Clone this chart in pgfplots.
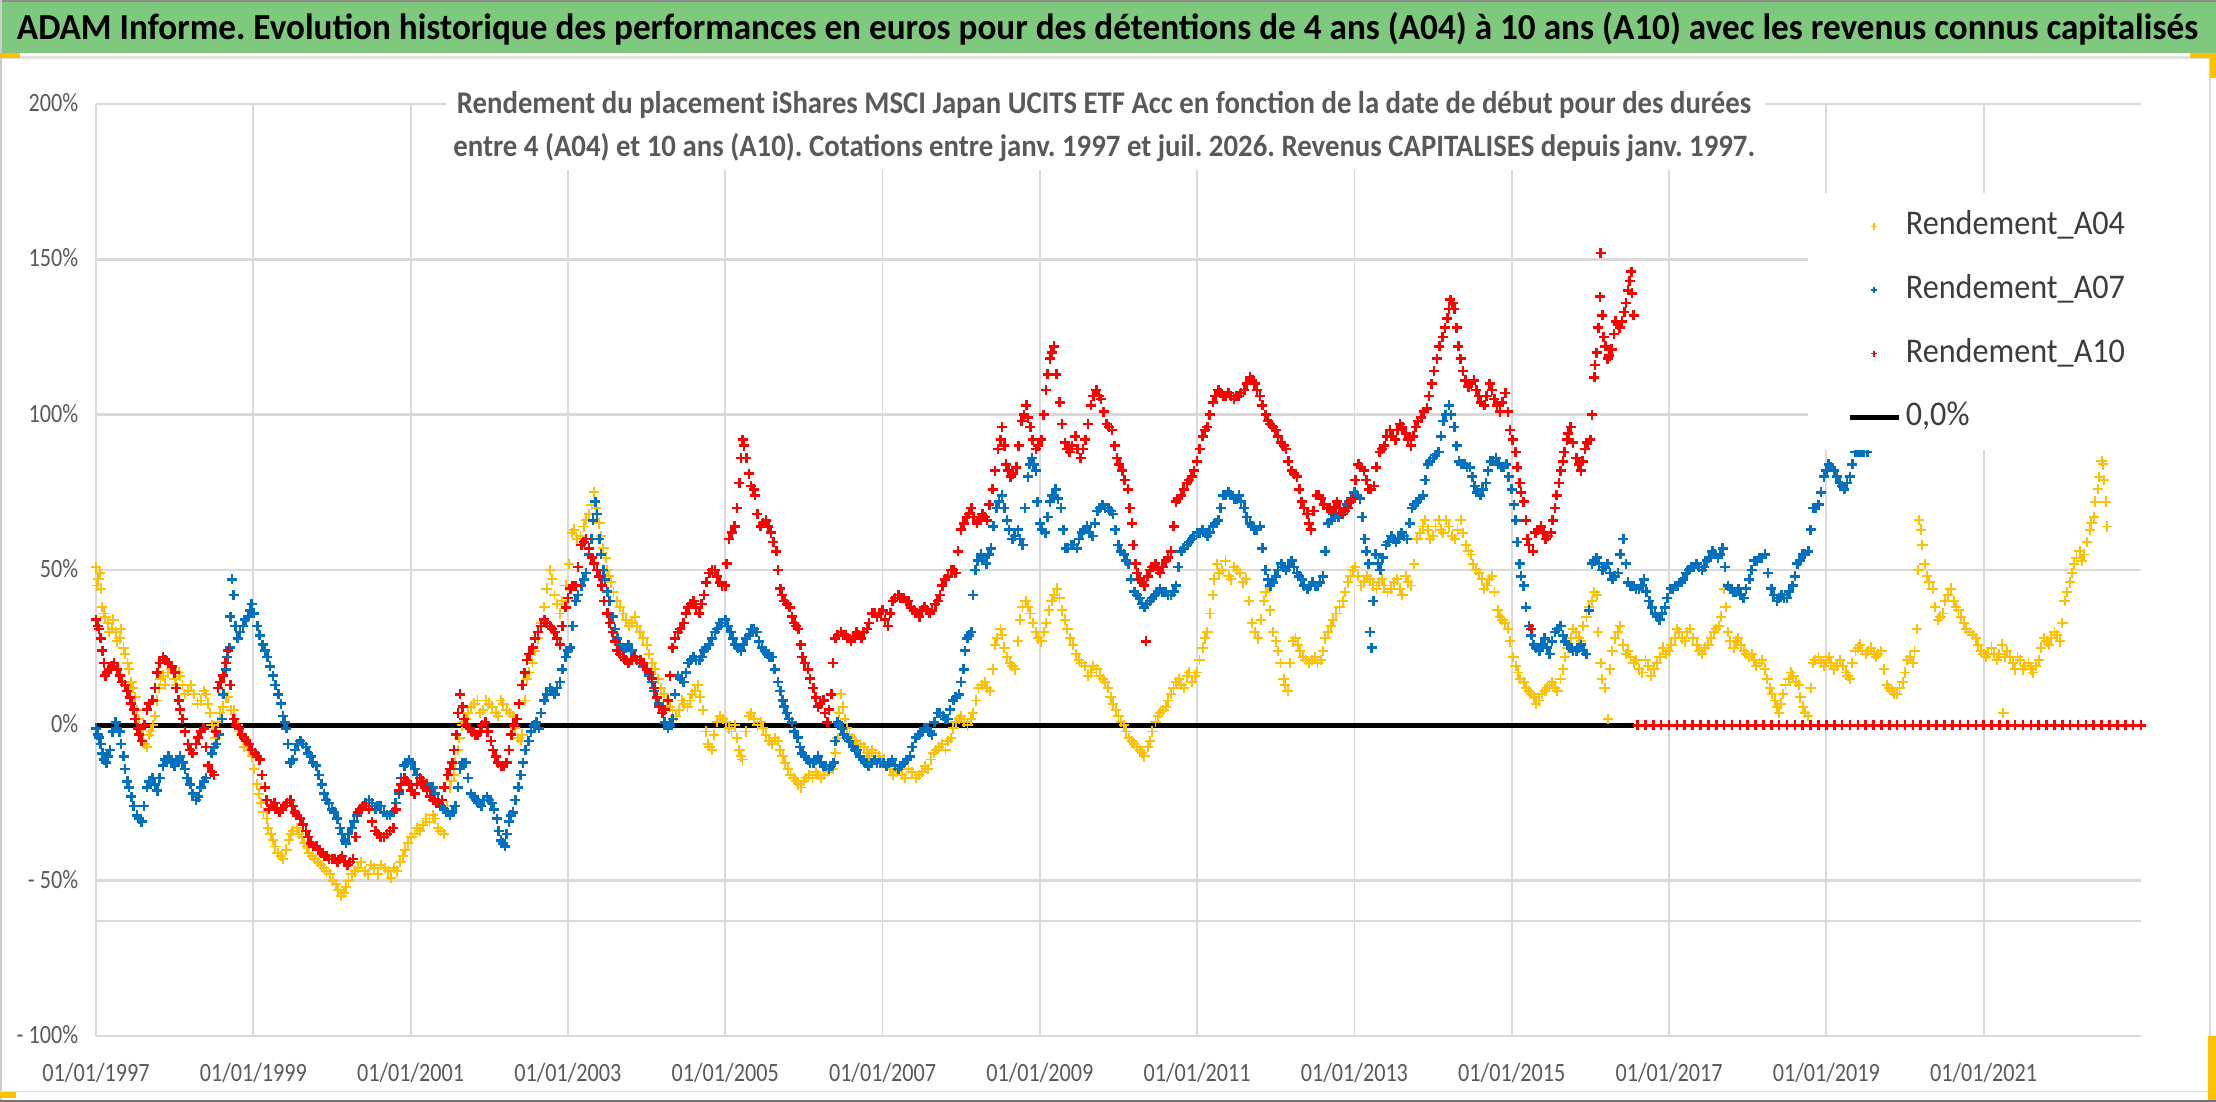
\documentclass[border=0pt]{standalone}
\usepackage{pgfplots}
\pgfplotsset{compat=1.18}
\usepackage{fontspec}
\setmainfont{Carlito}
\newfontfamily\condfont{Carlito}[FakeStretch=0.84]
\newfontfamily\legfam{Carlito}[FakeStretch=0.93]
\newcommand{\tickfont}{\condfont\fontsize{13.2}{14}\selectfont}
\newcommand{\legfont}{\legfam\fontsize{17.3}{18}\selectfont}
\definecolor{titlegreen}{RGB}{126,201,126}
\definecolor{yel}{RGB}{255,192,0}
\definecolor{blu}{RGB}{0,112,192}
\definecolor{rd}{RGB}{255,0,0}
\definecolor{labelgray}{RGB}{89,89,89}
\definecolor{leggray}{RGB}{60,60,60}
\definecolor{gridc}{RGB}{217,217,217}
\definecolor{handle}{RGB}{255,192,0}
\pgfplotsset{
  scatterleg/.style={legend image code/.code={\path[draw=none,fill=none] (0pt,0pt) -- (24.5pt,0pt);
      \draw[mark repeat=2,mark phase=2,##1,mark size=1.6pt,line width=0.7pt] plot coordinates {(0pt,0pt) (12.25pt,0pt) (24.5pt,0pt)};}},
  lineleg/.style={legend image code/.code={\draw[##1] (0pt,0pt) -- (24.5pt,0pt);}},
  pts/.style={only marks, mark=+, mark size=2.5pt, line width=1.3pt, scatterleg},
  ptsy/.style={only marks, mark=+, mark size=2.6pt, line width=0.95pt, scatterleg},
}
\begin{document}
\frenchspacing
\begin{tikzpicture}
\useasboundingbox (0pt,0pt) rectangle (1108pt,551pt);
\fill[white] (0pt,0pt) rectangle (1108pt,551pt);
\fill[titlegreen] (0pt,524.5pt) rectangle (1108pt,551pt);
\draw[black!45, line width=1pt] (0pt,550.5pt) -- (1108pt,550.5pt);
\draw[black!12, line width=1.2pt] (0pt,522.3pt) -- (1108pt,522.3pt);
\draw[black!20, line width=0.8pt] (0.4pt,0pt) -- (0.4pt,551pt);
\draw[black!15, line width=0.8pt] (1105pt,1pt) -- (1105pt,522pt);
\draw[black!12, line width=0.8pt] (0pt,5.2pt) -- (1108pt,5.2pt);
\draw[black!55, line width=1pt] (0pt,0.6pt) -- (1108pt,0.6pt);
\fill[handle] (0pt,522pt) rectangle (10pt,524.5pt);
\fill[handle] (1095pt,522pt) rectangle (1108pt,524.5pt);
\fill[handle] (1105pt,512pt) rectangle (1108pt,524pt);
\fill[handle] (1104pt,1pt) rectangle (1108pt,33pt);
\fill[handle] (0pt,2pt) rectangle (8pt,5pt);
\node[anchor=base, inner sep=0pt] at (553.75pt,531pt) {\resizebox{1090.5pt}{13.6pt}{\bfseries ADAM Informe. Evolution historique des performances en euros pour des détentions de 4 ans (A04) à 10 ans (A10) avec les revenus connus capitalisés}};
\begin{axis}[
  at={(48pt,33pt)}, anchor=south west,
  width=1022.5pt, height=466pt, scale only axis,
  xmin=1997, xmax=2023, ymin=-100, ymax=200,
  xtick={1997,1999,2001,2003,2005,2007,2009,2011,2013,2015,2017,2019,2021},
  xticklabels={01/01/1997,01/01/1999,01/01/2001,01/01/2003,01/01/2005,01/01/2007,01/01/2009,01/01/2011,01/01/2013,01/01/2015,01/01/2017,01/01/2019,01/01/2021},
  ytick={-100,-50,0,50,100,150,200},
  yticklabels={- 100\%,- 50\%,0\%,50\%,100\%,150\%,200\%},
  extra y ticks={-100,-63}, extra y tick labels={},
  extra y tick style={grid style={draw=black!22, line width=2pt}},
  grid=major,
  x grid style={draw=gridc, line width=0.9pt},
  y grid style={draw=gridc, line width=1.3pt},
  axis line style={draw=none},
  major tick length=0pt,
  tick label style={font=\tickfont, text=labelgray},
  xticklabel style={anchor=base, yshift=-22.85pt, inner sep=0pt},
  yticklabel style={anchor=base east, xshift=-8.75pt, yshift=-3.7pt, inner sep=0pt},
  legend cell align=left,
  legend style={at={(0.8372,0.9045)}, anchor=north west, fill=white, draw=none,
    inner xsep=19.25pt, inner ysep=8.7pt,
    font=\legfont, row sep=16.35pt,
    nodes={inner sep=0pt, text height=12pt, text depth=3.5pt, text=leggray},
    /tikz/every odd column/.append style={column sep=2.25pt}},
]
% ---------------- Rendement_A04 ----------------
\addplot[ptsy, color=yel] table {
x y
1997.00 51
1997.03 47
1997.06 44
1997.10 36
1997.15 33
1997.20 31
1997.25 30
1997.30 28
1997.35 25
1997.40 20
1997.45 14
1997.50 9
1997.55 2
1997.60 -3
1997.65 -7
1997.70 -2
1997.75 3
1997.80 12
1997.85 16
1997.92 17
1998.00 15
1998.05 17
1998.10 13
1998.17 11
1998.25 10
1998.33 8
1998.40 10
1998.45 4
1998.50 -2
1998.55 1
1998.62 6
1998.68 9
1998.75 5
1998.80 0
1998.85 -3
1998.92 -6
1998.98 -10
1999.05 -19
1999.10 -25
1999.17 -30
1999.22 -35
1999.28 -39
1999.35 -42
1999.42 -40
1999.48 -35
1999.55 -33
1999.62 -36
1999.68 -39
1999.75 -42
1999.82 -44
1999.90 -46
1999.97 -48
2000.05 -51
2000.12 -55
2000.18 -52
2000.25 -48
2000.33 -46
2000.42 -47
2000.50 -45
2000.58 -48
2000.67 -46
2000.75 -49
2000.83 -47
2000.90 -42
2000.97 -38
2001.05 -35
2001.12 -34
2001.20 -30
2001.28 -29
2001.35 -33
2001.42 -35
2001.50 -20
2001.55 -16
2001.60 -8
2001.65 0
2001.70 2
2001.77 6
2001.85 8
2001.92 5
2002.00 7
2002.08 4
2002.15 8
2002.22 5
2002.30 3
2002.37 -4
2002.42 -3
2002.48 15
2002.55 20
2002.62 28
2002.70 38
2002.77 50
2002.83 42
2002.90 36
2002.97 45
2003.05 62
2003.12 60
2003.20 64
2003.27 68
2003.33 75
2003.40 65
2003.45 57
2003.50 50
2003.55 46
2003.62 40
2003.70 36
2003.78 32
2003.85 35
2003.92 30
2004.00 26
2004.07 20
2004.15 15
2004.22 10
2004.30 6
2004.37 3
2004.45 8
2004.52 6
2004.58 10
2004.65 13
2004.72 5
2004.78 -6
2004.83 -8
2004.90 1
2004.97 2
2005.05 -1
2005.12 0
2005.18 -8
2005.22 -11
2005.30 3
2005.37 2
2005.45 1
2005.52 -3
2005.60 -6
2005.67 -5
2005.73 -10
2005.80 -14
2005.87 -17
2005.93 -19
2006.00 -18
2006.07 -16
2006.15 -15
2006.22 -17
2006.30 -15
2006.37 -14
2006.43 -4
2006.47 10
2006.52 2
2006.58 -3
2006.65 -5
2006.72 -6
2006.80 -9
2006.87 -8
2006.95 -10
2007.02 -11
2007.10 -14
2007.17 -15
2007.25 -16
2007.33 -14
2007.42 -17
2007.50 -15
2007.58 -14
2007.65 -9
2007.72 -7
2007.80 -8
2007.87 -4
2007.93 1
2008.00 3
2008.08 0
2008.15 4
2008.22 12
2008.30 14
2008.37 11
2008.43 26
2008.50 31
2008.55 25
2008.62 20
2008.68 18
2008.75 34
2008.82 40
2008.88 36
2008.95 30
2009.02 27
2009.08 33
2009.15 40
2009.22 44
2009.28 37
2009.35 31
2009.42 26
2009.50 21
2009.57 19
2009.65 17
2009.72 18
2009.80 15
2009.87 12
2009.93 7
2010.00 3
2010.07 0
2010.13 -4
2010.20 -6
2010.27 -8
2010.33 -10
2010.40 -5
2010.47 1
2010.53 4
2010.60 6
2010.67 10
2010.73 14
2010.80 13
2010.87 16
2010.93 14
2011.00 17
2011.07 25
2011.13 30
2011.20 42
2011.25 52
2011.32 50
2011.40 48
2011.47 51
2011.55 49
2011.62 47
2011.70 33
2011.77 28
2011.85 40
2011.90 45
2011.97 30
2012.03 24
2012.10 15
2012.15 11
2012.22 27
2012.28 26
2012.35 22
2012.42 20
2012.50 22
2012.57 21
2012.63 28
2012.70 32
2012.77 36
2012.85 40
2012.92 46
2012.98 50
2013.05 48
2013.12 46
2013.20 47
2013.28 44
2013.35 47
2013.42 43
2013.50 46
2013.58 44
2013.65 48
2013.72 45
2013.80 60
2013.87 64
2013.93 63
2014.00 61
2014.07 66
2014.13 62
2014.20 64
2014.28 60
2014.35 66
2014.42 58
2014.48 55
2014.55 50
2014.62 47
2014.68 45
2014.75 48
2014.82 37
2014.88 34
2014.95 31
2015.02 22
2015.08 17
2015.15 14
2015.22 11
2015.28 9
2015.35 8
2015.42 11
2015.48 13
2015.55 12
2015.62 15
2015.68 22
2015.75 28
2015.82 30
2015.88 27
2015.95 35
2016.02 40
2016.08 42
2016.13 20
2016.18 12
2016.22 2
2016.28 24
2016.35 30
2016.42 26
2016.48 24
2016.55 20
2016.62 18
2016.70 21
2016.77 16
2016.85 20
2016.92 25
2017.00 24
2017.07 28
2017.13 30
2017.20 27
2017.27 31
2017.35 26
2017.42 23
2017.50 26
2017.57 30
2017.63 32
2017.70 44
2017.75 30
2017.82 25
2017.88 28
2017.95 24
2018.02 22
2018.08 21
2018.15 20
2018.22 18
2018.28 12
2018.35 8
2018.40 4
2018.45 10
2018.52 15
2018.58 16
2018.65 13
2018.70 6
2018.77 3
2018.83 20
2018.90 22
2018.97 19
2019.03 22
2019.10 18
2019.17 21
2019.25 17
2019.30 15
2019.37 24
2019.43 26
2019.50 23
2019.57 25
2019.63 22
2019.70 24
2019.77 13
2019.83 11
2019.90 10
2019.97 14
2020.03 21
2020.10 20
2020.15 31
2020.18 66
2020.22 58
2020.28 48
2020.35 44
2020.42 34
2020.48 36
2020.55 42
2020.62 40
2020.68 37
2020.75 33
2020.82 30
2020.90 28
2020.97 24
2021.03 22
2021.10 25
2021.17 21
2021.23 26
2021.25 4
2021.30 24
2021.37 20
2021.43 22
2021.50 18
2021.57 20
2021.63 17
2021.70 21
2021.77 28
2021.83 26
2021.90 30
2021.97 27
2022.03 40
2022.10 46
2022.15 52
2022.22 56
2022.28 55
2022.35 63
2022.40 67
2022.45 76
2022.50 85
2022.53 79
2022.57 64
};
\addlegendentry{Rendement\_A04}
\addplot[ptsy, color=yel, forget plot] table {
x y
1997.01 45
1997.05 49
1997.08 38
1997.12 35
1997.17 30
1997.22 34
1997.27 27
1997.32 31
1997.37 23
1997.42 18
1997.47 12
1997.52 5
1997.57 -1
1997.62 -6
1997.67 -3
1997.72 0
1997.77 8
1997.82 15
1997.88 13
1997.96 18
1998.02 13
1998.07 16
1998.13 10
1998.21 13
1998.29 7
1998.37 11
1998.42 7
1998.47 0
1998.52 -4
1998.58 4
1998.65 9
1998.72 5
1998.77 2
1998.82 -2
1998.88 -7
1998.95 -8
1999.01 -14
1999.07 -22
1999.13 -28
1999.19 -33
1999.25 -37
1999.31 -41
1999.38 -43
1999.45 -37
1999.51 -34
1999.58 -35
1999.65 -38
1999.71 -41
1999.78 -43
1999.86 -45
1999.93 -47
2000.01 -50
2000.08 -53
2000.15 -54
2000.21 -50
2000.29 -47
2000.37 -44
2000.46 -48
2000.54 -46
2000.62 -45
2000.71 -47
2000.79 -46
2000.87 -44
2000.93 -40
2001.01 -36
2001.08 -33
2001.16 -32
2001.24 -31
2001.31 -30
2001.38 -34
2001.46 -26
2001.52 -18
2001.57 -12
2001.62 -4
2001.67 1
2001.73 4
2001.81 7
2001.88 4
2001.96 8
2002.04 6
2002.11 3
2002.18 7
2002.26 4
2002.33 -1
2002.40 -5
2002.45 8
2002.51 17
2002.58 24
2002.66 33
2002.73 44
2002.80 47
2002.86 39
2002.93 40
2003.01 52
2003.08 63
2003.16 61
2003.23 66
2003.30 71
2003.36 70
2003.42 61
2003.48 54
2003.52 48
2003.58 43
2003.66 38
2003.74 34
2003.81 33
2003.88 32
2003.96 28
2004.03 23
2004.11 18
2004.18 12
2004.26 8
2004.33 5
2004.41 5
2004.48 7
2004.55 8
2004.62 11
2004.68 9
2004.75 -2
2004.80 -7
2004.86 -3
2004.93 3
2005.01 1
2005.08 -2
2005.15 -4
2005.20 -10
2005.26 -2
2005.33 4
2005.41 0
2005.48 -1
2005.56 -5
2005.63 -4
2005.70 -8
2005.76 -12
2005.83 -16
2005.90 -18
2005.96 -20
2006.03 -17
2006.11 -17
2006.18 -16
2006.26 -16
2006.33 -13
2006.40 -9
2006.45 4
2006.50 6
2006.55 -1
2006.61 -4
2006.68 -6
2006.76 -7
2006.83 -10
2006.91 -9
2006.98 -12
2007.06 -13
2007.13 -16
2007.21 -14
2007.29 -17
2007.37 -15
2007.46 -16
2007.54 -13
2007.62 -11
2007.68 -8
2007.76 -6
2007.83 -5
2007.90 -1
2007.97 2
2008.04 1
2008.12 2
2008.19 8
2008.26 13
2008.33 12
2008.40 18
2008.46 28
2008.52 29
2008.58 22
2008.65 19
2008.72 27
2008.78 38
2008.85 38
2008.91 33
2008.98 28
2009.05 30
2009.12 37
2009.18 42
2009.25 41
2009.32 34
2009.38 28
2009.46 23
2009.53 20
2009.61 16
2009.68 19
2009.76 16
2009.83 14
2009.90 9
2009.97 5
2010.03 1
2010.10 -2
2010.17 -5
2010.23 -7
2010.30 -9
2010.37 -7
2010.43 -2
2010.50 3
2010.57 5
2010.63 8
2010.70 12
2010.77 15
2010.83 12
2010.90 17
2010.97 16
2011.03 21
2011.10 28
2011.16 36
2011.22 47
2011.28 49
2011.36 53
2011.43 47
2011.51 50
2011.58 46
2011.66 40
2011.73 30
2011.81 34
2011.87 43
2011.93 37
2012.00 27
2012.06 20
2012.12 13
2012.18 20
2012.25 28
2012.31 24
2012.38 21
2012.46 21
2012.53 20
2012.60 24
2012.66 30
2012.73 34
2012.81 38
2012.88 43
2012.95 48
2013.01 51
2013.08 45
2013.16 48
2013.24 45
2013.31 46
2013.38 45
2013.46 44
2013.54 47
2013.61 42
2013.68 46
2013.76 52
2013.83 62
2013.90 66
2013.96 60
2014.03 64
2014.10 63
2014.16 66
2014.24 61
2014.31 63
2014.38 62
2014.45 56
2014.51 52
2014.58 49
2014.65 44
2014.71 47
2014.78 43
2014.85 35
2014.91 33
2014.98 27
2015.05 19
2015.11 15
2015.18 12
2015.25 10
2015.31 7
2015.38 10
2015.45 12
2015.51 14
2015.58 11
2015.65 18
2015.71 25
2015.78 31
2015.85 28
2015.91 32
2015.98 38
2016.05 43
2016.10 30
2016.15 15
2016.25 18
2016.31 28
2016.38 32
2016.45 23
2016.51 22
2016.58 21
2016.66 17
2016.73 19
2016.81 18
2016.88 22
2016.96 23
2017.03 26
2017.10 31
2017.16 28
2017.23 30
2017.31 28
2017.38 24
2017.46 25
2017.53 28
2017.60 31
2017.66 35
2017.72 38
2017.78 27
2017.85 27
2017.91 26
2017.98 23
2018.05 23
2018.11 19
2018.18 21
2018.25 15
2018.31 10
2018.37 6
2018.42 7
2018.48 13
2018.55 17
2018.61 14
2018.67 9
2018.73 4
2018.80 12
2018.86 21
2018.93 20
2019.00 21
2019.06 20
2019.13 19
2019.21 19
2019.27 16
2019.33 20
2019.40 25
2019.46 24
2019.53 24
2019.60 23
2019.66 23
2019.73 18
2019.80 12
2019.86 10
2019.93 12
2020.00 17
2020.06 22
2020.12 24
2020.17 50
2020.20 63
2020.25 52
2020.31 46
2020.38 38
2020.45 35
2020.51 40
2020.58 44
2020.65 38
2020.71 35
2020.78 31
2020.86 29
2020.93 26
2021.00 23
2021.06 23
2021.13 23
2021.20 23
2021.27 22
2021.33 22
2021.40 18
2021.46 21
2021.53 19
2021.60 18
2021.66 19
2021.73 25
2021.80 27
2021.86 28
2021.93 29
2022.00 33
2022.06 43
2022.12 49
2022.18 54
2022.25 53
2022.31 59
2022.37 65
2022.42 72
2022.47 80
2022.52 84
2022.55 72
};
% ---------------- Rendement_A07 ----------------
\addplot[pts, color=blu] table {
x y
1997.00 -1
1997.04 -4
1997.08 -9
1997.13 -12
1997.18 -8
1997.25 1
1997.30 -2
1997.35 -10
1997.40 -18
1997.45 -23
1997.52 -29
1997.58 -31
1997.65 -20
1997.72 -17
1997.78 -21
1997.85 -13
1997.92 -10
1998.00 -13
1998.07 -10
1998.13 -14
1998.20 -19
1998.27 -24
1998.33 -20
1998.40 -17
1998.47 -9
1998.53 -6
1998.60 2
1998.65 18
1998.70 25
1998.73 47
1998.75 42
1998.80 28
1998.87 32
1998.93 35
1998.98 39
1999.05 32
1999.12 26
1999.18 22
1999.25 16
1999.32 10
1999.38 3
1999.42 -1
1999.47 -12
1999.53 -8
1999.60 -5
1999.67 -7
1999.73 -10
1999.80 -13
1999.87 -19
1999.93 -24
2000.00 -27
2000.07 -30
2000.13 -35
2000.18 -38
2000.25 -33
2000.32 -29
2000.40 -26
2000.47 -24
2000.55 -27
2000.62 -26
2000.70 -29
2000.78 -28
2000.85 -22
2000.92 -13
2000.98 -11
2001.05 -14
2001.12 -17
2001.20 -19
2001.28 -20
2001.35 -24
2001.42 -27
2001.50 -29
2001.57 -26
2001.63 -14
2001.70 -12
2001.77 -22
2001.83 -24
2001.90 -26
2001.97 -23
2002.03 -25
2002.10 -30
2002.15 -37
2002.20 -39
2002.25 -31
2002.30 -28
2002.37 -20
2002.43 -12
2002.50 -5
2002.57 0
2002.63 -1
2002.70 8
2002.77 12
2002.83 10
2002.90 14
2002.97 22
2003.03 25
2003.10 40
2003.17 45
2003.23 49
2003.30 60
2003.35 72
2003.40 60
2003.45 50
2003.50 43
2003.57 35
2003.63 28
2003.70 24
2003.77 26
2003.85 22
2003.92 20
2004.00 18
2004.07 14
2004.13 9
2004.20 4
2004.27 -1
2004.33 2
2004.40 16
2004.47 14
2004.53 20
2004.60 22
2004.67 21
2004.73 24
2004.80 26
2004.87 30
2004.93 33
2005.00 34
2005.07 30
2005.13 26
2005.20 24
2005.27 28
2005.33 31
2005.40 30
2005.47 25
2005.53 23
2005.60 22
2005.67 14
2005.73 8
2005.78 4
2005.85 1
2005.92 -4
2005.98 -9
2006.05 -11
2006.12 -12
2006.18 -10
2006.25 -13
2006.32 -14
2006.38 -12
2006.43 1
2006.48 -1
2006.55 -4
2006.62 -7
2006.68 -8
2006.75 -11
2006.82 -13
2006.90 -11
2006.97 -12
2007.05 -13
2007.12 -11
2007.20 -14
2007.27 -12
2007.35 -10
2007.42 -4
2007.50 -2
2007.57 -1
2007.63 -3
2007.70 4
2007.77 3
2007.83 2
2007.90 8
2007.97 10
2008.03 18
2008.08 28
2008.13 30
2008.18 50
2008.25 55
2008.32 52
2008.38 57
2008.45 70
2008.52 74
2008.58 66
2008.65 60
2008.72 63
2008.78 58
2008.85 80
2008.90 86
2008.95 82
2009.00 65
2009.07 62
2009.13 72
2009.20 76
2009.27 70
2009.33 57
2009.40 58
2009.47 57
2009.53 62
2009.60 64
2009.67 61
2009.73 69
2009.80 71
2009.87 70
2009.93 68
2010.00 58
2010.07 55
2010.13 52
2010.20 43
2010.27 41
2010.33 38
2010.40 40
2010.47 42
2010.53 44
2010.60 43
2010.67 42
2010.73 45
2010.80 56
2010.87 58
2010.93 60
2011.00 62
2011.07 63
2011.13 61
2011.20 64
2011.27 66
2011.33 74
2011.40 75
2011.47 73
2011.53 74
2011.60 70
2011.67 65
2011.73 63
2011.80 64
2011.87 50
2011.93 45
2012.00 48
2012.07 52
2012.13 50
2012.20 53
2012.27 49
2012.33 47
2012.40 44
2012.47 46
2012.53 45
2012.60 48
2012.67 65
2012.73 68
2012.80 67
2012.87 70
2012.93 72
2013.00 75
2013.07 73
2013.13 60
2013.18 52
2013.20 30
2013.22 25
2013.27 55
2013.33 50
2013.40 58
2013.47 61
2013.53 59
2013.60 62
2013.67 60
2013.73 70
2013.80 72
2013.87 74
2013.93 84
2014.00 86
2014.07 88
2014.13 98
2014.20 103
2014.27 96
2014.33 85
2014.40 84
2014.47 83
2014.53 77
2014.60 74
2014.67 78
2014.73 85
2014.80 86
2014.87 83
2014.93 84
2015.00 76
2015.05 66
2015.10 52
2015.15 45
2015.22 32
2015.28 26
2015.35 24
2015.42 28
2015.48 23
2015.55 30
2015.62 32
2015.68 27
2015.75 25
2015.82 24
2015.88 26
2015.95 23
2016.02 52
2016.08 54
2016.15 50
2016.22 52
2016.28 47
2016.35 49
2016.42 60
2016.48 46
2016.55 45
2016.62 44
2016.68 47
2016.75 40
2016.82 36
2016.88 34
2016.95 38
2017.02 44
2017.08 45
2017.15 46
2017.22 49
2017.28 51
2017.35 52
2017.42 50
2017.48 53
2017.55 56
2017.62 54
2017.68 57
2017.75 45
2017.82 43
2017.88 44
2017.95 41
2018.02 47
2018.08 53
2018.15 54
2018.22 55
2018.30 44
2018.37 40
2018.43 42
2018.50 41
2018.57 45
2018.63 52
2018.70 55
2018.77 56
2018.83 70
2018.90 71
2018.97 80
2019.03 84
2019.10 82
2019.17 78
2019.23 76
2019.30 80
2019.37 88
2019.45 88
2019.52 88
};
\addlegendentry{Rendement\_A07}
\addplot[pts, color=blu, forget plot] table {
x y
1997.02 -3
1997.06 -6
1997.10 -11
1997.15 -10
1997.21 -2
1997.27 -1
1997.32 -6
1997.37 -14
1997.42 -20
1997.48 -26
1997.55 -30
1997.61 -26
1997.68 -18
1997.75 -19
1997.81 -17
1997.88 -11
1997.96 -12
1998.03 -11
1998.10 -12
1998.16 -17
1998.23 -22
1998.30 -23
1998.37 -18
1998.43 -13
1998.50 -7
1998.56 -3
1998.62 10
1998.67 22
1998.71 35
1998.77 32
1998.83 30
1998.90 34
1998.96 37
1999.01 36
1999.08 29
1999.15 24
1999.21 19
1999.28 13
1999.35 7
1999.40 1
1999.44 -6
1999.50 -11
1999.56 -6
1999.63 -6
1999.70 -9
1999.76 -12
1999.83 -16
1999.90 -22
1999.96 -25
2000.03 -28
2000.10 -33
2000.16 -37
2000.21 -35
2000.28 -31
2000.36 -27
2000.43 -25
2000.51 -25
2000.58 -26
2000.66 -28
2000.74 -29
2000.81 -25
2000.88 -17
2000.95 -12
2001.01 -12
2001.08 -16
2001.16 -18
2001.24 -20
2001.31 -22
2001.38 -26
2001.46 -28
2001.53 -28
2001.60 -20
2001.66 -12
2001.73 -17
2001.80 -23
2001.86 -25
2001.93 -24
2002.00 -24
2002.06 -27
2002.12 -34
2002.17 -38
2002.22 -35
2002.27 -29
2002.33 -24
2002.40 -16
2002.46 -8
2002.53 -2
2002.60 1
2002.66 4
2002.73 10
2002.80 11
2002.86 12
2002.93 18
2003.00 24
2003.06 32
2003.13 42
2003.20 47
2003.27 55
2003.32 66
2003.37 68
2003.42 55
2003.47 47
2003.53 40
2003.60 31
2003.66 26
2003.73 25
2003.81 24
2003.88 21
2003.96 19
2004.03 16
2004.10 11
2004.16 7
2004.23 1
2004.30 0
2004.36 10
2004.43 15
2004.50 17
2004.56 21
2004.63 21
2004.70 22
2004.76 25
2004.83 28
2004.90 31
2004.96 33
2005.03 32
2005.10 28
2005.16 25
2005.23 26
2005.30 29
2005.36 31
2005.43 27
2005.50 24
2005.56 22
2005.63 18
2005.70 11
2005.75 6
2005.81 2
2005.88 -2
2005.95 -7
2006.01 -10
2006.08 -12
2006.15 -11
2006.21 -12
2006.28 -13
2006.35 -13
2006.40 -5
2006.45 0
2006.51 -3
2006.58 -5
2006.65 -8
2006.71 -10
2006.78 -12
2006.86 -12
2006.93 -12
2007.01 -12
2007.08 -12
2007.16 -13
2007.23 -13
2007.31 -11
2007.38 -7
2007.46 -3
2007.53 -1
2007.60 -2
2007.66 1
2007.73 4
2007.80 2
2007.86 5
2007.93 9
2008.00 14
2008.05 24
2008.10 29
2008.15 42
2008.21 53
2008.28 54
2008.35 55
2008.41 64
2008.48 72
2008.55 70
2008.61 63
2008.68 61
2008.75 60
2008.81 70
2008.87 84
2008.92 84
2008.97 72
2009.03 63
2009.10 67
2009.16 74
2009.23 73
2009.30 63
2009.36 57
2009.43 58
2009.50 60
2009.56 63
2009.63 62
2009.70 65
2009.76 70
2009.83 70
2009.90 69
2009.96 63
2010.03 56
2010.10 53
2010.16 47
2010.23 42
2010.30 39
2010.36 39
2010.43 41
2010.50 43
2010.56 43
2010.63 42
2010.70 43
2010.76 51
2010.83 57
2010.90 59
2010.96 61
2011.03 62
2011.10 62
2011.16 62
2011.23 65
2011.30 70
2011.36 74
2011.43 74
2011.50 73
2011.56 72
2011.63 67
2011.70 64
2011.76 63
2011.83 57
2011.90 47
2011.96 46
2012.03 50
2012.10 51
2012.16 51
2012.23 51
2012.30 48
2012.36 45
2012.43 45
2012.50 45
2012.56 46
2012.63 56
2012.70 66
2012.76 68
2012.83 68
2012.90 71
2012.96 73
2013.03 74
2013.10 67
2013.15 56
2013.24 40
2013.30 52
2013.36 54
2013.43 59
2013.50 60
2013.56 60
2013.63 61
2013.70 65
2013.76 71
2013.83 73
2013.90 79
2013.96 85
2014.03 87
2014.10 93
2014.16 100
2014.23 100
2014.30 90
2014.36 84
2014.43 83
2014.50 80
2014.56 75
2014.63 76
2014.70 82
2014.76 85
2014.83 84
2014.90 83
2014.96 80
2015.03 71
2015.07 59
2015.12 48
2015.18 38
2015.25 29
2015.31 25
2015.38 26
2015.45 25
2015.51 27
2015.58 31
2015.65 29
2015.71 26
2015.78 24
2015.85 25
2015.91 24
2015.98 37
2016.05 53
2016.11 52
2016.18 51
2016.25 49
2016.31 48
2016.38 55
2016.45 52
2016.51 45
2016.58 44
2016.65 45
2016.71 43
2016.78 38
2016.85 35
2016.91 36
2016.98 41
2017.05 44
2017.11 45
2017.18 47
2017.25 50
2017.31 51
2017.38 51
2017.45 51
2017.51 54
2017.58 55
2017.65 55
2017.71 51
2017.78 44
2017.85 43
2017.91 42
2017.98 44
2018.05 50
2018.11 53
2018.18 54
2018.26 49
2018.33 42
2018.40 41
2018.46 41
2018.53 43
2018.60 48
2018.66 53
2018.73 55
2018.80 63
2018.86 70
2018.93 75
2019.00 82
2019.06 83
2019.13 80
2019.20 77
2019.26 78
2019.33 84
2019.41 88
2019.48 88
};
% ---------------- Rendement_A10 ----------------
\addplot[pts, color=rd] table {
x y
1997.00 34
1997.04 31
1997.08 24
1997.12 16
1997.17 18
1997.23 20
1997.30 16
1997.37 13
1997.43 9
1997.48 5
1997.53 -1
1997.58 -5
1997.65 5
1997.72 8
1997.78 17
1997.85 22
1997.92 20
1998.00 17
1998.05 8
1998.10 2
1998.17 -6
1998.23 -9
1998.30 -4
1998.37 -1
1998.43 -13
1998.50 -16
1998.55 12
1998.62 16
1998.68 24
1998.75 2
1998.82 -1
1998.88 -4
1998.95 -6
1999.02 -9
1999.08 -11
1999.15 -20
1999.20 -27
1999.27 -25
1999.33 -28
1999.40 -26
1999.47 -24
1999.53 -28
1999.60 -30
1999.67 -34
1999.73 -38
1999.80 -39
1999.87 -41
1999.93 -42
2000.00 -43
2000.07 -44
2000.13 -42
2000.20 -45
2000.27 -43
2000.33 -28
2000.40 -26
2000.47 -27
2000.55 -34
2000.62 -36
2000.70 -35
2000.78 -33
2000.85 -21
2000.92 -17
2000.98 -19
2001.05 -22
2001.12 -17
2001.18 -20
2001.25 -23
2001.33 -25
2001.40 -24
2001.47 -16
2001.53 -12
2001.58 -3
2001.63 10
2001.68 2
2001.75 -1
2001.82 -3
2001.88 -2
2001.95 1
2002.02 -5
2002.08 -10
2002.15 -13
2002.22 -12
2002.28 -3
2002.35 2
2002.42 13
2002.48 21
2002.55 25
2002.62 30
2002.70 34
2002.77 32
2002.83 30
2002.90 26
2002.97 38
2003.03 44
2003.10 45
2003.17 58
2003.23 60
2003.30 54
2003.37 50
2003.43 45
2003.50 36
2003.57 30
2003.63 24
2003.70 22
2003.77 20
2003.85 22
2003.92 21
2004.00 18
2004.07 15
2004.13 9
2004.20 4
2004.27 8
2004.33 25
2004.40 30
2004.47 33
2004.53 38
2004.60 40
2004.67 36
2004.73 42
2004.80 49
2004.87 50
2004.93 46
2005.00 45
2005.05 60
2005.12 64
2005.18 78
2005.22 92
2005.27 86
2005.33 77
2005.38 74
2005.45 64
2005.52 66
2005.58 62
2005.65 56
2005.70 44
2005.75 40
2005.82 38
2005.88 33
2005.93 31
2005.98 22
2006.05 18
2006.12 12
2006.18 6
2006.25 8
2006.30 1
2006.35 10
2006.40 28
2006.47 30
2006.53 29
2006.60 27
2006.67 30
2006.73 28
2006.80 31
2006.87 36
2006.93 35
2007.00 37
2007.07 32
2007.13 40
2007.20 42
2007.27 41
2007.33 40
2007.40 37
2007.47 35
2007.53 38
2007.60 36
2007.67 39
2007.73 42
2007.80 47
2007.87 50
2007.93 49
2008.00 63
2008.07 67
2008.13 70
2008.20 65
2008.27 68
2008.33 66
2008.40 76
2008.47 89
2008.52 96
2008.57 84
2008.63 80
2008.70 83
2008.77 98
2008.83 103
2008.88 96
2008.95 89
2009.02 92
2009.08 108
2009.13 118
2009.18 122
2009.25 104
2009.32 91
2009.38 88
2009.45 93
2009.52 86
2009.58 92
2009.65 103
2009.72 108
2009.78 105
2009.85 97
2009.92 95
2009.98 86
2010.05 82
2010.12 76
2010.17 65
2010.22 52
2010.27 47
2010.33 45
2010.35 27
2010.40 50
2010.47 52
2010.53 49
2010.60 53
2010.67 56
2010.73 72
2010.80 74
2010.87 78
2010.93 80
2011.00 85
2011.07 93
2011.13 96
2011.20 104
2011.27 108
2011.33 106
2011.40 107
2011.47 105
2011.53 106
2011.60 108
2011.67 112
2011.73 110
2011.80 106
2011.87 100
2011.93 97
2012.00 95
2012.07 91
2012.13 89
2012.20 82
2012.27 80
2012.33 72
2012.40 68
2012.45 63
2012.52 74
2012.58 73
2012.65 70
2012.72 69
2012.78 72
2012.85 68
2012.92 70
2012.98 73
2013.05 84
2013.12 82
2013.18 76
2013.25 77
2013.32 88
2013.38 90
2013.45 95
2013.52 92
2013.58 97
2013.65 94
2013.72 90
2013.78 96
2013.85 99
2013.92 102
2013.98 110
2014.05 118
2014.12 125
2014.18 131
2014.22 137
2014.27 134
2014.32 122
2014.38 114
2014.45 109
2014.52 111
2014.58 106
2014.65 103
2014.72 110
2014.78 105
2014.85 101
2014.92 107
2014.98 95
2015.05 88
2015.10 78
2015.15 72
2015.20 60
2015.25 31
2015.27 56
2015.30 62
2015.37 64
2015.43 60
2015.50 62
2015.55 70
2015.60 78
2015.65 85
2015.70 92
2015.75 96
2015.82 86
2015.88 82
2015.93 89
2016.00 92
2016.05 112
2016.08 120
2016.12 138
2016.13 152
2016.17 125
2016.22 118
2016.27 121
2016.32 130
2016.37 128
2016.43 133
2016.48 140
2016.52 146
2016.55 132
};
\addlegendentry{Rendement\_A10}
\addplot[pts, color=rd, forget plot] table {
x y
1997.02 32
1997.06 28
1997.10 20
1997.14 17
1997.20 19
1997.27 18
1997.33 14
1997.40 11
1997.45 7
1997.50 2
1997.55 -3
1997.62 0
1997.68 7
1997.75 12
1997.81 20
1997.88 21
1997.96 19
1998.02 12
1998.07 5
1998.13 -2
1998.20 -8
1998.27 -6
1998.33 -2
1998.40 -7
1998.47 -15
1998.52 -2
1998.58 14
1998.65 20
1998.71 13
1998.78 0
1998.85 -3
1998.91 -5
1998.98 -8
1999.05 -10
1999.11 -16
1999.17 -24
1999.23 -26
1999.30 -27
1999.36 -27
1999.43 -25
1999.50 -26
1999.56 -29
1999.63 -32
1999.70 -36
1999.76 -39
1999.83 -40
1999.90 -42
1999.96 -43
2000.03 -43
2000.10 -43
2000.16 -44
2000.23 -44
2000.30 -36
2000.36 -27
2000.43 -26
2000.51 -31
2000.58 -35
2000.66 -36
2000.74 -34
2000.81 -27
2000.88 -19
2000.95 -18
2001.01 -21
2001.08 -19
2001.15 -18
2001.21 -21
2001.29 -24
2001.36 -25
2001.43 -20
2001.50 -14
2001.55 -8
2001.60 4
2001.66 6
2001.71 0
2001.78 -2
2001.85 -3
2001.91 0
2001.98 -2
2002.05 -8
2002.11 -12
2002.18 -13
2002.25 -8
2002.31 0
2002.38 7
2002.45 17
2002.51 23
2002.58 28
2002.66 32
2002.73 33
2002.80 31
2002.86 28
2002.93 32
2003.00 41
2003.06 45
2003.13 51
2003.20 59
2003.27 57
2003.33 52
2003.40 48
2003.46 40
2003.53 33
2003.60 27
2003.66 23
2003.73 21
2003.81 21
2003.88 21
2003.96 20
2004.03 17
2004.10 12
2004.16 6
2004.23 5
2004.30 16
2004.36 28
2004.43 31
2004.50 36
2004.56 39
2004.63 38
2004.70 39
2004.76 46
2004.83 50
2004.90 48
2004.96 45
2005.02 52
2005.08 62
2005.15 70
2005.20 86
2005.24 90
2005.30 81
2005.36 76
2005.41 68
2005.48 65
2005.55 64
2005.61 59
2005.67 50
2005.72 42
2005.78 39
2005.85 35
2005.90 32
2005.96 26
2006.01 20
2006.08 15
2006.15 9
2006.21 7
2006.27 4
2006.32 5
2006.37 20
2006.43 29
2006.50 29
2006.56 28
2006.63 28
2006.70 29
2006.76 30
2006.83 33
2006.90 36
2006.96 36
2007.03 34
2007.10 36
2007.16 41
2007.23 41
2007.30 40
2007.36 38
2007.43 36
2007.50 37
2007.56 37
2007.63 37
2007.70 40
2007.76 45
2007.83 48
2007.90 50
2007.96 56
2008.03 65
2008.10 68
2008.16 67
2008.23 66
2008.30 67
2008.36 71
2008.43 82
2008.50 92
2008.55 90
2008.60 82
2008.66 81
2008.73 90
2008.80 100
2008.85 99
2008.91 92
2008.98 90
2009.05 100
2009.10 113
2009.15 120
2009.21 113
2009.28 97
2009.35 89
2009.41 90
2009.48 89
2009.55 89
2009.61 97
2009.68 106
2009.75 106
2009.81 101
2009.88 96
2009.95 90
2010.01 84
2010.08 79
2010.14 70
2010.19 58
2010.24 49
2010.30 46
2010.37 48
2010.43 51
2010.50 50
2010.56 51
2010.63 54
2010.70 64
2010.76 73
2010.83 76
2010.90 79
2010.96 82
2011.03 89
2011.10 95
2011.16 100
2011.23 106
2011.30 107
2011.36 106
2011.43 106
2011.50 106
2011.56 107
2011.63 110
2011.70 111
2011.76 108
2011.83 103
2011.90 98
2011.96 96
2012.03 93
2012.10 90
2012.16 85
2012.23 81
2012.30 76
2012.36 70
2012.42 65
2012.48 69
2012.55 74
2012.61 71
2012.68 70
2012.75 70
2012.81 70
2012.88 69
2012.95 72
2013.01 79
2013.08 83
2013.15 79
2013.21 76
2013.28 83
2013.35 89
2013.41 93
2013.48 93
2013.55 95
2013.61 96
2013.68 92
2013.75 93
2013.81 98
2013.88 101
2013.95 106
2014.01 114
2014.08 122
2014.15 128
2014.20 134
2014.25 136
2014.30 128
2014.35 118
2014.41 111
2014.48 110
2014.55 108
2014.61 104
2014.68 106
2014.75 108
2014.81 103
2014.88 104
2014.95 101
2015.01 92
2015.07 83
2015.12 75
2015.18 66
2015.22 58
2015.33 63
2015.40 62
2015.46 61
2015.52 66
2015.57 74
2015.62 82
2015.67 88
2015.72 94
2015.78 91
2015.85 84
2015.90 85
2015.96 91
2016.02 100
2016.06 116
2016.10 128
2016.15 132
2016.19 122
2016.24 119
2016.30 126
2016.35 129
2016.40 130
2016.45 136
2016.50 143
2016.53 139
};
% ---------------- 0,0% ----------------
\addplot[black, line width=2.7pt, no marks, lineleg]
  coordinates {(1997,0) (2016.56,0)};
\addlegendentry{0,0\%}
% A10 start dates without a full 10-year horizon, plotted at 0
\addplot[pts, color=rd, forget plot] table {
x y
2016.6 0
2016.7 0
2016.8 0
2016.9 0
2017.0 0
2017.1 0
2017.2 0
2017.3 0
2017.4 0
2017.5 0
2017.6 0
2017.7 0
2017.8 0
2017.9 0
2018.0 0
2018.1 0
2018.2 0
2018.3 0
2018.4 0
2018.5 0
2018.6 0
2018.7 0
2018.8 0
2018.9 0
2019.0 0
2019.1 0
2019.2 0
2019.3 0
2019.4 0
2019.5 0
2019.6 0
2019.7 0
2019.8 0
2019.9 0
2020.0 0
2020.1 0
2020.2 0
2020.3 0
2020.4 0
2020.5 0
2020.6 0
2020.7 0
2020.8 0
2020.9 0
2021.0 0
2021.1 0
2021.2 0
2021.3 0
2021.4 0
2021.5 0
2021.6 0
2021.7 0
2021.8 0
2021.9 0
2022.0 0
2022.1 0
2022.2 0
2022.3 0
2022.4 0
2022.5 0
2022.6 0
2022.7 0
2022.8 0
2022.9 0
2023.0 0
};
\end{axis}
\fill[white] (223pt,466pt) rectangle (882.5pt,506pt);
\node[anchor=base, inner sep=0pt, text=labelgray] at (552pt,494.35pt) {\resizebox{647pt}{11.1pt}{\bfseries Rendement du placement iShares MSCI Japan UCITS ETF Acc en fonction de la date de début pour des durées}};
\node[anchor=base, inner sep=0pt, text=labelgray] at (552.1pt,472.65pt) {\resizebox{650.75pt}{11.55pt}{\bfseries entre 4 (A04) et 10 ans (A10). Cotations entre janv. 1997 et juil. 2026. Revenus CAPITALISES depuis janv. 1997.}};
\end{tikzpicture}
\end{document}
